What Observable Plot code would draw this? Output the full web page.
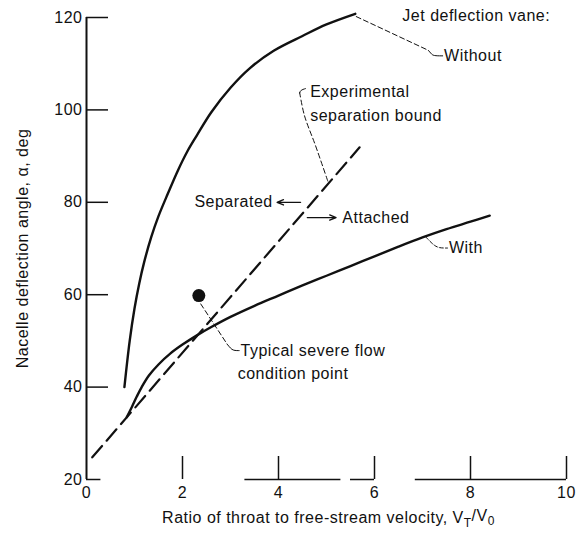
<!DOCTYPE html>
<html><head><meta charset="utf-8">
<script src="https://cdn.jsdelivr.net/npm/d3@7"></script>
<script src="https://cdn.jsdelivr.net/npm/@observablehq/plot@0.6"></script>
<style>body{margin:0;background:#fff;}</style>
</head><body><div id="chart"></div>
<script>
// ---- data ----
const xDomain = [0, 10];
const yDomain = [20, 120];
const xTicks = [0, 2, 4, 6, 8, 10];
const yTicks = [20, 40, 60, 80, 100, 120];
const xTickMarks = [2, 4, 6, 8, 10];
const yTickMarks = [40, 60, 80, 100, 120];
const xAxisSegStart = [0, 3.3, 5.5, 6.85];
const xAxisSegEnd = [0.3, 5.3, 6.0, 10];

const withoutX = [0.79, 0.9, 1.0, 1.1, 1.2, 1.35, 1.5, 1.7, 1.9, 2.1, 2.3, 2.6, 3.0, 3.4, 3.9, 4.5, 5.0, 5.6];
const withoutY = [40, 50, 57, 62.5, 67, 72.5, 77, 82, 86.8, 91, 94.5, 99.5, 104.8, 109, 112.8, 116, 118.5, 120.8];

const withX = [0.84, 0.95, 1.05, 1.15, 1.3, 1.5, 1.75, 2.0, 2.3, 2.6, 3.0, 3.5, 4.0, 4.5, 5.0, 5.5, 6.0, 6.5, 7.0, 7.5, 8.0, 8.4];
const withY = [33.5, 35.8, 38.0, 40.0, 42.5, 44.9, 47.3, 49.2, 51.2, 53.0, 55.2, 57.6, 59.8, 62.0, 64.1, 66.2, 68.3, 70.4, 72.4, 74.2, 75.8, 77.1];

const boundX = [0.12, 5.69];
const boundY = [24.8, 91.9];

const pointX = [2.34];
const pointY = [59.8];

// annotation leaders (data units)
const leaderWithoutX = [5.62, 7.12];
const leaderWithoutY = [120.2, 112.9];
const hookWithoutX = [7.12, 7.18, 7.22, 7.42];
const hookWithoutY = [112.9, 112.2, 111.7, 111.7];

const leaderBoundX = [4.44, 4.54, 4.77, 5.03];
const leaderBoundY = [103.8, 98.8, 92.3, 84.5];
const hookBoundX = [4.44, 4.46, 4.56];
const hookBoundY = [103.6, 104.3, 104.6];

const hookWithX = [7.06, 7.15, 7.25, 7.35, 7.52];
const hookWithY = [72.6, 71.6, 70.6, 70.1, 70.1];

const leaderPointX = [2.38, 2.93];
const leaderPointY = [58.0, 49.3];
const hookPointX = [2.93, 3.0, 3.06, 3.18];
const hookPointY = [49.3, 48.4, 47.9, 47.9];

const sepArrow = {x1: 4.46, x2: 3.97, y: 80.0};
const attArrow = {x1: 4.60, x2: 5.20, y: 76.7};

const labels = [
  {x: 6.58, y: 120.3, text: "Jet deflection vane:", anchor: "start"},
  {x: 7.45, y: 111.7, text: "Without", anchor: "start"},
  {x: 4.66, y: 103.8, text: "Experimental", anchor: "start"},
  {x: 4.66, y: 98.8,  text: "separation bound", anchor: "start"},
  {x: 3.88, y: 80.0,  text: "Separated", anchor: "end"},
  {x: 5.33, y: 76.7,  text: "Attached", anchor: "start"},
  {x: 7.55, y: 70.1,  text: "With", anchor: "start"},
  {x: 3.21, y: 47.9,  text: "Typical severe flow", anchor: "start"},
  {x: 3.15, y: 42.8,  text: "condition point", anchor: "start"}
];

const yLabel = "Nacelle deflection angle, α, deg";
const xLabelParts = ["Ratio of throat to free-stream velocity, V", "T", "/V", "0"];

// ---- build ----
const pts = (xs, ys) => xs.map((x, i) => ({x, y: ys[i]}));
const leaderStyle = {x: "x", y: "y", stroke: "#111", strokeWidth: 1, strokeDasharray: "5,3"};
const hookStyle = {x: "x", y: "y", stroke: "#111", strokeWidth: 1, curve: "basis"};

const chart = Plot.plot({
  width: 577,
  height: 536,
  marginLeft: 86,
  marginRight: 11,
  marginTop: 17,
  marginBottom: 57,
  x: {domain: xDomain},
  y: {domain: yDomain},
  style: {
    fontFamily: "'Liberation Sans', Arial, sans-serif",
    fontSize: "16px",
    letterSpacing: "0.5px",
    color: "#111",
    background: "#fff"
  },
  marks: [
    // axis lines
    Plot.ruleX([xDomain[0]], {y1: yDomain[0], y2: yDomain[1], stroke: "#111", strokeWidth: 2}),
    Plot.ruleY(xAxisSegStart.map((s, i) => ({s, e: xAxisSegEnd[i]})), {x1: "s", x2: "e", y: yDomain[0], stroke: "#111", strokeWidth: 1.5}),
    Plot.axisY(yTickMarks, {anchor: "left", tickSize: -22, tickFormat: () => "", label: null, strokeWidth: 1.5, stroke: "#111"}),
    Plot.axisY(yTicks, {anchor: "left", tickSize: 0, tickPadding: 4, label: null, fill: "#111"}),
    Plot.axisX(xTickMarks, {anchor: "bottom", tickSize: -23, tickFormat: () => "", label: null, strokeWidth: 1.5, stroke: "#111"}),
    Plot.axisX(xTicks, {anchor: "bottom", tickSize: 0, tickPadding: 7, label: null, fill: "#111"}),
    // curves
    Plot.line(pts(withoutX, withoutY), {x: "x", y: "y", stroke: "#111", strokeWidth: 2.4, curve: "catmull-rom"}),
    Plot.line(pts(withX, withY), {x: "x", y: "y", stroke: "#111", strokeWidth: 2.4, curve: "catmull-rom"}),
    Plot.line(pts(boundX, boundY), {x: "x", y: "y", stroke: "#111", strokeWidth: 2.2, strokeDasharray: "15,7"}),
    Plot.dot(pts(pointX, pointY), {x: "x", y: "y", r: 6.5, fill: "#111", stroke: "none"}),
    // leaders
    Plot.line(pts(leaderWithoutX, leaderWithoutY), leaderStyle),
    Plot.line(pts(hookWithoutX, hookWithoutY), hookStyle),
    Plot.line(pts(leaderBoundX, leaderBoundY), {...leaderStyle, curve: "catmull-rom"}),
    Plot.line(pts(hookBoundX, hookBoundY), hookStyle),
    Plot.line(pts(hookWithX, hookWithY), {...hookStyle, strokeDasharray: "4,2"}),
    Plot.line(pts(leaderPointX, leaderPointY), leaderStyle),
    Plot.line(pts(hookPointX, hookPointY), hookStyle),
    Plot.arrow([sepArrow], {x1: "x1", x2: "x2", y1: "y", y2: "y", stroke: "#111", strokeWidth: 1.3, headLength: 8, headAngle: 45}),
    Plot.arrow([attArrow], {x1: "x1", x2: "x2", y1: "y", y2: "y", stroke: "#111", strokeWidth: 1.3, headLength: 8, headAngle: 45}),
    // labels
    Plot.text(labels.filter(d => d.anchor === "start"), {x: "x", y: "y", text: "text", textAnchor: "start", fill: "#111"}),
    Plot.text(labels.filter(d => d.anchor === "end"), {x: "x", y: "y", text: "text", textAnchor: "end", fill: "#111"}),
    Plot.text([yLabel], {frameAnchor: "left", textAnchor: "middle", lineAnchor: "middle", rotate: -90, dx: -64, fill: "#111"}),
    Plot.text([xLabelParts.join("")], {frameAnchor: "bottom", textAnchor: "middle", lineAnchor: "middle", dy: 38, dx: 2, fill: "#111"})
  ]
});

document.getElementById("chart").appendChild(chart);

// subscripts in the x-axis label
d3.select(chart).selectAll("text").each(function() {
  const t = d3.select(this);
  if (t.text() === xLabelParts.join("")) {
    t.text(null);
    t.append("tspan").text(xLabelParts[0]);
    t.append("tspan").attr("dy", "0.35em").attr("font-size", "12px").text(xLabelParts[1]);
    t.append("tspan").attr("dy", "-0.35em").text(xLabelParts[2]);
    t.append("tspan").attr("dy", "0.35em").attr("font-size", "12px").text(xLabelParts[3]);
  }
});
</script></body></html>
